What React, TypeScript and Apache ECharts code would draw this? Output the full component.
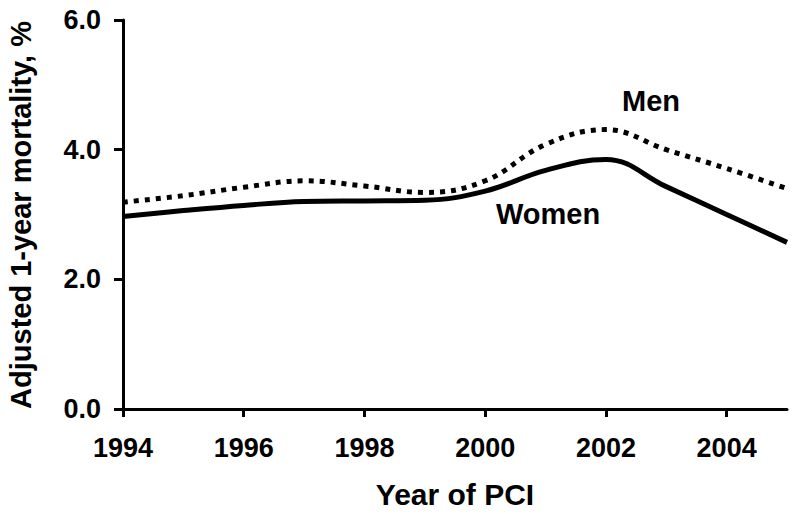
import React, { useEffect, useRef } from "react";
import * as echarts from "echarts";

const years = [1994, 1995, 1996, 1997, 1998, 1999, 2000, 2001, 2002, 2003, 2004, 2005];
const women = [2.97, 3.06, 3.14, 3.2, 3.21, 3.22, 3.36, 3.68, 3.85, 3.43, 3.0, 2.57];
const men = [3.19, 3.29, 3.42, 3.52, 3.44, 3.34, 3.52, 4.08, 4.31, 4.0, 3.71, 3.4];
const xTicks = [1994, 1996, 1998, 2000, 2002, 2004];
const yTicks = [0, 2, 4, 6];

const FONT = "'Liberation Sans', Arial, sans-serif";

export default function App() {
  const ref = useRef<HTMLDivElement>(null);
  useEffect(() => {
    if (!ref.current) return;
    const chart = echarts.init(ref.current, null, { renderer: "svg" });
    const axisLine = { lineStyle: { color: "#000", width: 3 } };
    chart.setOption({
      animation: false,
      backgroundColor: "#fff",
      grid: { left: 123, right: 13, top: 20, bottom: 103 },
      xAxis: {
        type: "value",
        min: 1994,
        max: 2005,
        interval: 2,
        name: "Year of PCI",
        nameLocation: "middle",
        nameGap: 70,
        nameTextStyle: { fontFamily: FONT, fontWeight: "bold", fontSize: 30, color: "#000" },
        axisLine,
        axisTick: { show: true, length: 8, lineStyle: { color: "#000", width: 3 }, customValues: xTicks },
        axisLabel: {
          customValues: xTicks,
          margin: 25,
          fontFamily: FONT,
          fontWeight: "bold",
          fontSize: 27,
          color: "#000",
          formatter: (v: number) => String(v),
        },
        splitLine: { show: false },
      },
      yAxis: {
        type: "value",
        min: 0,
        max: 6,
        interval: 2,
        axisLine: { show: true, ...axisLine },
        axisTick: { show: true, length: 9, lineStyle: { color: "#000", width: 3 }, customValues: yTicks },
        axisLabel: {
          customValues: yTicks,
          margin: 22,
          fontFamily: FONT,
          fontWeight: "bold",
          fontSize: 27,
          color: "#000",
          formatter: (v: number) => v.toFixed(1),
        },
        splitLine: { show: false },
      },
      series: [
        {
          name: "Men",
          type: "line",
          data: years.map((y, i) => [y, men[i]]),
          smooth: 0.4,
          symbol: "none",
          lineStyle: { color: "#000", width: 5, type: [5, 6], cap: "butt" },
        },
        {
          name: "Women",
          type: "line",
          data: years.map((y, i) => [y, women[i]]),
          smooth: 0.4,
          symbol: "none",
          lineStyle: { color: "#000", width: 5 },
        },
      ],
      graphic: [
        {
          type: "text",
          x: 21,
          y: 215,
          rotation: Math.PI / 2,
          style: {
            text: "Adjusted 1-year mortality, %",
            fontFamily: FONT,
            fontWeight: "bold",
            fontSize: 29,
            fill: "#000",
            align: "center",
            verticalAlign: "middle",
          },
        },
        {
          type: "text",
          x: 622,
          y: 115,
          style: {
            text: "Men",
            fontFamily: FONT,
            fontWeight: "bold",
            fontSize: 29,
            fill: "#000",
            align: "left",
            verticalAlign: "bottom",
          },
        },
        {
          type: "text",
          x: 496,
          y: 228,
          style: {
            text: "Women",
            fontFamily: FONT,
            fontWeight: "bold",
            fontSize: 29,
            fill: "#000",
            align: "left",
            verticalAlign: "bottom",
          },
        },
      ],
    });
    return () => chart.dispose();
  }, []);
  return <div ref={ref} style={{ width: 800, height: 514, position: "absolute", left: 0, top: 0 }} />;
}
